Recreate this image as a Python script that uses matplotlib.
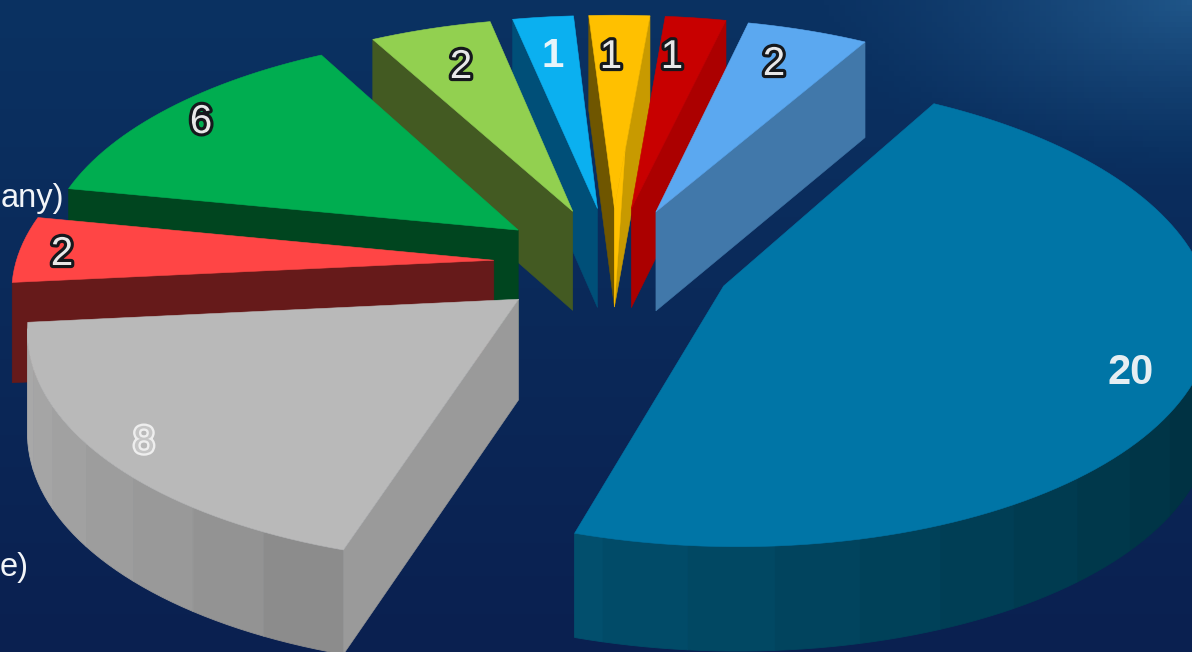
import numpy as np
import matplotlib
matplotlib.use('Agg')
import matplotlib.pyplot as plt
import matplotlib.patheffects as pe
from matplotlib.colors import LinearSegmentedColormap, to_rgb

# pie values, clockwise starting from the big slice
values = [20, 8, 2, 6, 2, 1, 1, 1, 2]

top_colors = ['#0075a6', '#b9b9b9', '#ff4545', '#00ad50', '#92d050', '#0bb0f0', '#ffc000', '#c80000', '#5ba8f0']
# radial wall colours: (clockwise-start edge, clockwise-end edge)
wall_colors = [('#00506f', '#00506f'), ('#9a9a9a', '#9a9a9a'), ('#661a1a', '#661a1a'),
               ('#00451f', '#00451f'), ('#435a22', '#435a22'), ('#004f78', '#004f78'),
               ('#6f5600', '#c89a00'), ('#ab0000', '#ab0000'), ('#4178aa', '#4178aa')]
# outer rim colours along the arc
rim_colors = [['#03344b', '#02303f', '#003243', '#004058', '#02506f'],
              ['#8c8c8c', '#989898', '#a0a0a0', '#a6a6a6', '#ababab'],
              ['#661a1a', '#661a1a'], ['#00451f', '#00451f'], ['#435a22', '#435a22'],
              ['#004f78', '#004f78'], ['#6f5600', '#6f5600'], ['#ab0000', '#ab0000'],
              ['#4178aa', '#4178aa']]

# back slices first so the front ones paint over them
draw_order = [5, 4, 6, 7, 8, 3, 2, 1, 0]

labels = ['20', '8', '2', '6', '2', '1', '1', '1', '2']
label_x = [1131, 144, 62, 201, 461, 553, 611, 672, 774]
label_y = [373, 443, 254, 122, 67, 56, 57, 57, 64]

# projection of the pie plane
cx, cy = 613, 263
scale_x, scale_y = 478, 226
persp = 0.112
explode = 0.25
depth = 100
start_angle = 60.0
rim_band = 6

W, H = 1192, 652

fig = plt.figure(figsize=(W / 100, H / 100), dpi=100)
ax = fig.add_axes([0, 0, 1, 1])
ax.set_xlim(0, W)
ax.set_ylim(H, 0)
ax.axis('off')

# navy background, lighter only in the top right corner
yy, xx = np.mgrid[0:1:120j, 0:1:220j]
glow = np.clip(1 - np.hypot((1 - xx) * 3.2, yy * 3.5), 0, 1) ** 1.3
shade = 0.35 * (1 - yy) + 0.65 * glow
bg_cmap = LinearSegmentedColormap.from_list('bg', [(0, '#0a2050'), (0.35, '#0b3262'), (1, '#1f5588')])
ax.imshow(shade, extent=[0, W, H, 0], cmap=bg_cmap, vmin=0, vmax=1, aspect='auto', zorder=0)


def project(u, v):
    d = 1 + persp * v
    return cx + scale_x * u / d, cy - scale_y * v / d


def drop(v):
    return depth * (1 - 0.04 * v)


def is_front(p0, p1, inner):
    # a wall shows when the extrusion points away from the top face
    ex, ey = p1[0] - p0[0], p1[1] - p0[1]
    side_in = ex * (inner[1] - p0[1]) - ey * (inner[0] - p0[0])
    side_down = ex
    return side_in * side_down < 0


def mix(stops, t):
    stops = [np.array(to_rgb(c)) for c in stops]
    pos = t * (len(stops) - 1)
    i = min(int(pos), len(stops) - 2)
    return tuple(stops[i] + (stops[i + 1] - stops[i]) * (pos - i))


total = sum(values)
sweeps = [360.0 * val / total for val in values]
starts = [start_angle - sum(sweeps[:i]) for i in range(len(values))]

for i in draw_order:
    a0 = starts[i]
    a1 = a0 - sweeps[i]
    mid = np.radians((a0 + a1) / 2)
    ou, ov = explode * np.cos(mid), explode * np.sin(mid)

    th = np.radians(np.linspace(a0, a1, max(int(sweeps[i] / 1.5), 6)))
    arc_u, arc_v = ou + np.cos(th), ov + np.sin(th)
    arc_x, arc_y = project(arc_u, arc_v)
    arc_d = drop(arc_v)
    ax_, ay_ = project(ou, ov)
    apex_d = drop(ov)
    inner = (arc_x.mean() * 0.5 + ax_ * 0.5, arc_y.mean() * 0.5 + ay_ * 0.5)

    # outer rim, in broad flat bands
    for j in range(0, len(th) - 1, rim_band):
        k = min(j + rim_band, len(th) - 1)
        if is_front((arc_x[j], arc_y[j]), (arc_x[k], arc_y[k]), inner):
            col = mix(rim_colors[i], j / (len(th) - 1))
            ax.fill(np.r_[arc_x[j:k + 1], arc_x[j:k + 1][::-1]],
                    np.r_[arc_y[j:k + 1], (arc_y[j:k + 1] + arc_d[j:k + 1])[::-1]],
                    color=col, lw=0.6, zorder=2)

    # the two cut faces
    for end, col in ((0, wall_colors[i][0]), (-1, wall_colors[i][1])):
        p0 = (ax_, ay_)
        p1 = (arc_x[end], arc_y[end])
        if is_front(p0, p1, inner):
            ax.fill([p0[0], p1[0], p1[0], p0[0]],
                    [p0[1], p1[1], p1[1] + arc_d[end], p0[1] + apex_d],
                    color=col, lw=0.4, zorder=2)

    ax.fill(np.r_[ax_, arc_x], np.r_[ay_, arc_y], color=top_colors[i], lw=0.4, zorder=2)

    # the narrow middle slice keeps its bright colour down to the tip
    if i == 6:
        ex_ = ax_ + 0.3 * (arc_x[-1] - ax_)
        ey_ = ay_ + 0.3 * (arc_y[-1] - ay_)
        ax.fill([ax_, ex_, ax_], [ay_, ey_, ay_ + apex_d], color=top_colors[i], lw=0.3, zorder=2)

# value labels on top of everything
plt.rcParams['font.family'] = ['Liberation Sans', 'DejaVu Sans']
outlined = [pe.withStroke(linewidth=4.5, foreground='#15181c')]
for i in range(len(values)):
    if i == 0:
        ax.text(label_x[i], label_y[i], labels[i], fontsize=30, fontweight='bold', color='#e6eef2',
                ha='center', va='center', zorder=5)
    elif i == 1:
        ax.text(label_x[i], label_y[i], labels[i], fontsize=28, color='#c6c6c6', ha='center', va='center',
                path_effects=[pe.withStroke(linewidth=3.4, foreground='#eeeeee')], zorder=5)
    elif i == 5:
        ax.text(label_x[i], label_y[i], labels[i], fontsize=29, fontweight='bold', color='#e8f4fa',
                ha='center', va='center', zorder=5)
    else:
        ax.text(label_x[i], label_y[i], labels[i], fontsize=29, color='#e8e8e8', ha='center', va='center',
                path_effects=outlined, zorder=5)

# legend text running off the left edge
ax.text(64, 207, 'any)', fontsize=23.5, color='#f2f5f8', ha='right', va='baseline', zorder=5)
ax.text(29, 576, 'e)', fontsize=23.5, color='#f2f5f8', ha='right', va='baseline', zorder=5)

fig.savefig('out.png', dpi=100)
